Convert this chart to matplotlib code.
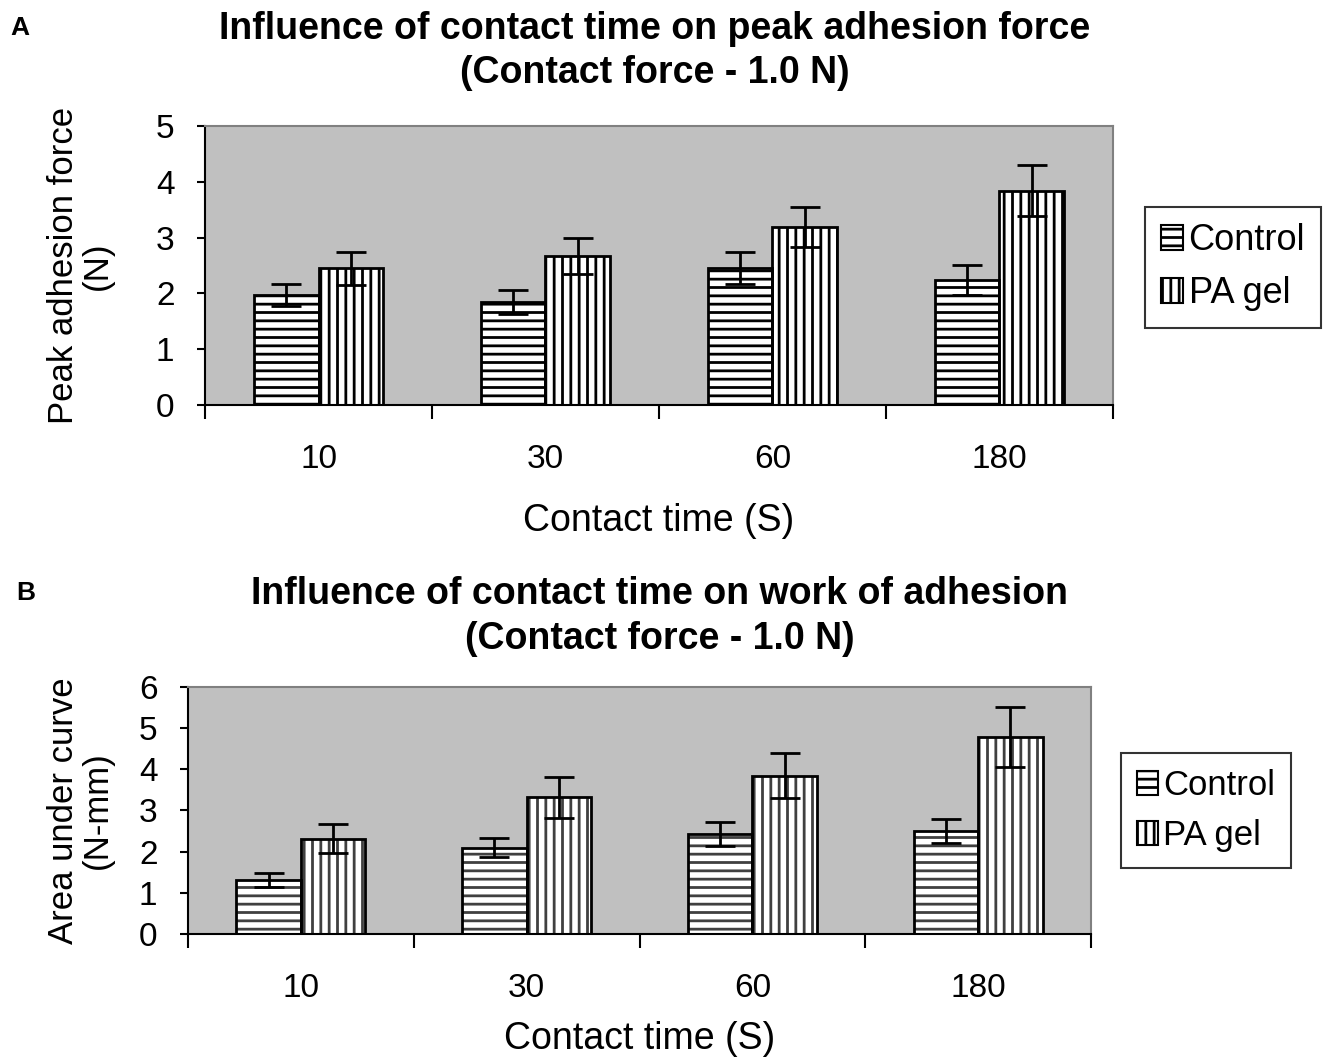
import numpy as np
import matplotlib
matplotlib.use("Agg")
import matplotlib.pyplot as plt

plt.rcParams['font.family'] = ['Liberation Sans', 'DejaVu Sans']
plt.rcParams['hatch.linewidth'] = 2.0

times = ['10', '30', '60', '180']
series = ['Control', 'PA gel']

# Panel A: peak adhesion force (N)
force_control = [1.97, 1.85, 2.46, 2.24]
force_control_err = [0.2, 0.22, 0.29, 0.27]
force_pagel = [2.45, 2.67, 3.19, 3.84]
force_pagel_err = [0.3, 0.32, 0.35, 0.46]

# Panel B: area under curve (N-mm)
work_control = [1.31, 2.09, 2.43, 2.50]
work_control_err = [0.17, 0.23, 0.29, 0.29]
work_pagel = [2.31, 3.32, 3.85, 4.78]
work_pagel_err = [0.35, 0.5, 0.55, 0.73]

fig = plt.figure(figsize=(13.27, 10.61), dpi=100)
axA = fig.add_axes([0.1545, 0.6183, 0.6842, 0.2629])
axB = fig.add_axes([0.1417, 0.1197, 0.6805, 0.2328])


def draw_panel(ax, ctrl, ctrl_err, pa, pa_err, ymax, ylabel, hatch_col, leg_anchor,
               xpad, ypad, legsize):
    x = np.arange(len(times))
    w = 0.286
    b1 = ax.bar(x - w / 2, ctrl, w, color='white', edgecolor=hatch_col, hatch='--',
                linewidth=0, label=series[0], zorder=2)
    b2 = ax.bar(x + w / 2, pa, w, color='white', edgecolor=hatch_col, hatch='||',
                linewidth=0, label=series[1], zorder=2)
    # black outlines
    ax.bar(x - w / 2, ctrl, w, fill=False, edgecolor='black', linewidth=2, zorder=3)
    ax.bar(x + w / 2, pa, w, fill=False, edgecolor='black', linewidth=2, zorder=3)
    ax.errorbar(x - w / 2, ctrl, yerr=ctrl_err, fmt='none', ecolor='black',
                elinewidth=2, capsize=11, capthick=2, zorder=4)
    ax.errorbar(x + w / 2, pa, yerr=pa_err, fmt='none', ecolor='black',
                elinewidth=2, capsize=11, capthick=2, zorder=4)

    ax.set_facecolor('#c0c0c0')
    ax.set_xlim(-0.5, len(times) - 0.5)
    ax.set_ylim(0, ymax)
    ax.set_yticks(range(ymax + 1))
    ax.set_xticks(x)
    ax.set_xticklabels(times)
    ax.set_xticks(np.arange(len(times) + 1) - 0.5, minor=True)
    ax.tick_params(axis='x', which='major', length=0, labelsize=24, pad=28)
    ax.tick_params(axis='x', which='minor', length=10, width=1.5, direction='out')
    ax.tick_params(axis='y', length=6, width=1.5, labelsize=24, pad=16)
    for s in ['top', 'right']:
        ax.spines[s].set_color('#808080')
        ax.spines[s].set_linewidth(1.5)
    for s in ['left', 'bottom']:
        ax.spines[s].set_color('black')
        ax.spines[s].set_linewidth(1.5)
    ax.set_xlabel('Contact time (S)', fontsize=27, labelpad=xpad)
    ax.set_ylabel(ylabel, fontsize=25, labelpad=ypad, linespacing=1.05)

    # legend handles built from the bars
    leg = ax.legend(handles=[b1, b2], loc='center left', bbox_to_anchor=leg_anchor,
                    bbox_transform=fig.transFigure, frameon=True, fancybox=False,
                    edgecolor='black', fontsize=legsize, handlelength=0.6, handleheight=0.7,
                    handletextpad=0.15, borderpad=0.45, labelspacing=0.5,
                    borderaxespad=0)
    leg.get_frame().set_linewidth(1.5)
    for p in leg.get_patches():
        p.set_edgecolor('black')
        p.set_linewidth(1.5)


draw_panel(axA, force_control, force_control_err, force_pagel, force_pagel_err, 5,
           'Peak adhesion force\n(N)', 'black', (0.863, 0.748), 20, 30, 26)
draw_panel(axB, work_control, work_control_err, work_pagel, work_pagel_err, 6,
           'Area under curve\n(N-mm)', '#404040', (0.845, 0.236), 12, 18, 25)

fig.text(0.4935, 0.990, 'Influence of contact time on peak adhesion force\n(Contact force - 1.0 N)',
         ha='center', va='top', fontsize=27, fontweight='bold', linespacing=1.3)
fig.text(0.497, 0.457, 'Influence of contact time on work of adhesion\n(Contact force - 1.0 N)',
         ha='center', va='top', fontsize=27, fontweight='bold', linespacing=1.3)
fig.text(0.008, 0.985, 'A', fontsize=19, fontweight='bold', va='top')
fig.text(0.012, 0.452, 'B', fontsize=19, fontweight='bold', va='top')

fig.savefig('out.png', dpi=100)
